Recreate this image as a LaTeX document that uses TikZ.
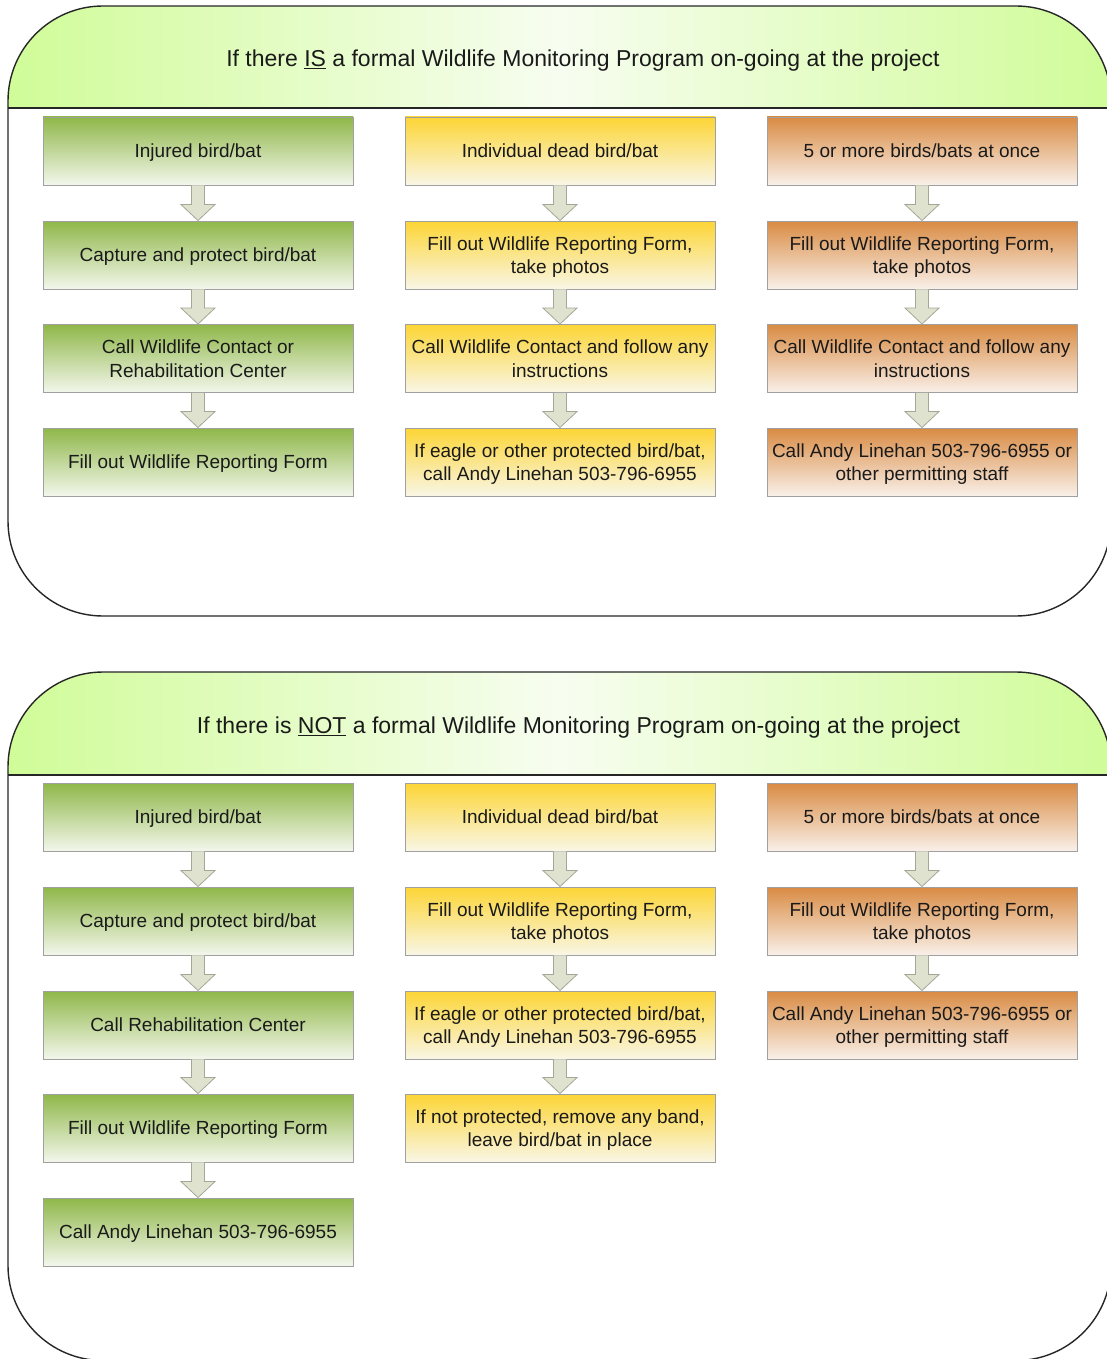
\documentclass[tikz,border=0pt]{standalone}
\usepackage{fontspec}
\setmainfont{Liberation Sans}
\usetikzlibrary{calc}
\definecolor{gtop}{HTML}{8FB749}
\definecolor{gbot}{HTML}{F3F7EC}
\definecolor{ytop}{HTML}{FCD535}
\definecolor{ybot}{HTML}{F9F6E6}
\definecolor{otop}{HTML}{D98B43}
\definecolor{obot}{HTML}{F9F0E9}
\definecolor{hside}{HTML}{D0FC98}
\definecolor{hmid}{HTML}{F7FDF0}
\definecolor{arrfill}{HTML}{DEE2CE}
\definecolor{arrline}{HTML}{A3A795}
\definecolor{boxline}{HTML}{A0A0A0}
\definecolor{txt}{HTML}{1A1A1A}
\definecolor{panelline}{HTML}{262626}
\tikzset{
  box/.style={rectangle, draw=boxline, line width=0.9pt, minimum width=310pt,
    minimum height=68pt, inner sep=0pt, align=center,
    text height=16.6pt, text depth=3pt,
    font=\fontsize{19}{23.5}\selectfont, text=txt},
  twoline/.style={text height=40.1pt, text depth=3pt},
  gbox/.style={box, top color=gtop, bottom color=gbot},
  ybox/.style={box, top color=ytop, bottom color=ybot},
  obox/.style={box, top color=otop, bottom color=obot},
  panel/.style={draw=panelline, line width=1.4pt, rounded corners=95pt},
  hshade/.style={left color=hside, right color=hside, middle color=hmid},
  htext/.style={font=\fontsize{23}{28}\selectfont, text=txt, inner sep=0pt,
    text height=20pt, text depth=3.5pt},
  arrfillst/.style={fill=arrfill},
  arrdrawst/.style={draw=arrline, line width=0.8pt, line join=miter}
}
\newcommand\blkarrow[2]{%
  \fill[arrfillst] ($(#1.south)+(-6.5,0)$) -- ($(#2.north)+(-6.5,-16)$) -- ($(#2.north)+(-17,-16)$) -- (#2.north) -- ($(#2.north)+(17,-16)$) -- ($(#2.north)+(6.5,-16)$) -- ($(#1.south)+(6.5,0)$) -- cycle;
  \draw[arrdrawst] ($(#1.south)+(-6.5,0)$) -- ($(#2.north)+(-6.5,-16)$) -- ($(#2.north)+(-17,-16)$) -- (#2.north) -- ($(#2.north)+(17,-16)$) -- ($(#2.north)+(6.5,-16)$) -- ($(#1.south)+(6.5,0)$);}
\begin{document}
\begin{tikzpicture}[x=1pt, y=-1pt]
\useasboundingbox (0,0) rectangle (1107,1359);
% ---------- upper panel ----------
\begin{scope}
  \clip[rounded corners=95pt] (8,6) rectangle (1111,616);
  \shade[hshade] (8,6) rectangle (1111,108);
\end{scope}
\draw[panel] (8,6) rectangle (1111,616);
\draw[draw=panelline, line width=1.4pt] (8,108) -- (1111,108);
\node[htext] (h1) at (583,58) {If there \underline{IS} a formal Wildlife Monitoring Program on-going at the project};

\node[gbox] (a1) at (198,151) {Injured bird/bat};
\node[gbox] (a2) at (198,255) {Capture and protect bird/bat};
\node[gbox, twoline] (a3) at (198,358.5) {Call Wildlife Contact or\\Rehabilitation Center};
\node[gbox] (a4) at (198,462) {Fill out Wildlife Reporting Form};

\node[ybox] (b1) at (560,151) {Individual dead bird/bat};
\node[ybox, twoline] (b2) at (560,255) {Fill out Wildlife Reporting Form,\\take photos};
\node[ybox, twoline] (b3) at (560,358.5) {Call Wildlife Contact and follow any\\instructions};
\node[ybox, twoline] (b4) at (560,462) {If eagle or other protected bird/bat,\\call Andy Linehan 503-796-6955};

\node[obox] (c1) at (922,151) {5 or more birds/bats at once};
\node[obox, twoline] (c2) at (922,255) {Fill out Wildlife Reporting Form,\\take photos};
\node[obox, twoline] (c3) at (922,358.5) {Call Wildlife Contact and follow any\\instructions};
\node[obox, twoline] (c4) at (922,462) {Call Andy Linehan 503-796-6955 or\\other permitting staff};

\blkarrow{a1}{a2}\blkarrow{a2}{a3}\blkarrow{a3}{a4}
\blkarrow{b1}{b2}\blkarrow{b2}{b3}\blkarrow{b3}{b4}
\blkarrow{c1}{c2}\blkarrow{c2}{c3}\blkarrow{c3}{c4}

% ---------- lower panel ----------
\begin{scope}
  \clip[rounded corners=95pt] (8,672) rectangle (1111,1360.5);
  \shade[hshade] (8,672) rectangle (1111,775);
\end{scope}
\draw[panel] (8,672) rectangle (1111,1360.5);
\draw[draw=panelline, line width=1.4pt] (8,775) -- (1111,775);
\node[htext] (h2) at (578.5,725) {If there is \underline{NOT} a formal Wildlife Monitoring Program on-going at the project};

\node[gbox] (d1) at (198,817) {Injured bird/bat};
\node[gbox] (d2) at (198,921) {Capture and protect bird/bat};
\node[gbox] (d3) at (198,1025) {Call Rehabilitation Center};
\node[gbox] (d4) at (198,1128) {Fill out Wildlife Reporting Form};
\node[gbox] (d5) at (198,1232) {Call Andy Linehan 503-796-6955};

\node[ybox] (e1) at (560,817) {Individual dead bird/bat};
\node[ybox, twoline] (e2) at (560,921) {Fill out Wildlife Reporting Form,\\take photos};
\node[ybox, twoline] (e3) at (560,1025) {If eagle or other protected bird/bat,\\call Andy Linehan 503-796-6955};
\node[ybox, twoline] (e4) at (560,1128) {If not protected, remove any band,\\leave bird/bat in place};

\node[obox] (f1) at (922,817) {5 or more birds/bats at once};
\node[obox, twoline] (f2) at (922,921) {Fill out Wildlife Reporting Form,\\take photos};
\node[obox, twoline] (f3) at (922,1025) {Call Andy Linehan 503-796-6955 or\\other permitting staff};

\blkarrow{d1}{d2}\blkarrow{d2}{d3}\blkarrow{d3}{d4}\blkarrow{d4}{d5}
\blkarrow{e1}{e2}\blkarrow{e2}{e3}\blkarrow{e3}{e4}
\blkarrow{f1}{f2}\blkarrow{f2}{f3}
\end{tikzpicture}
\end{document}
